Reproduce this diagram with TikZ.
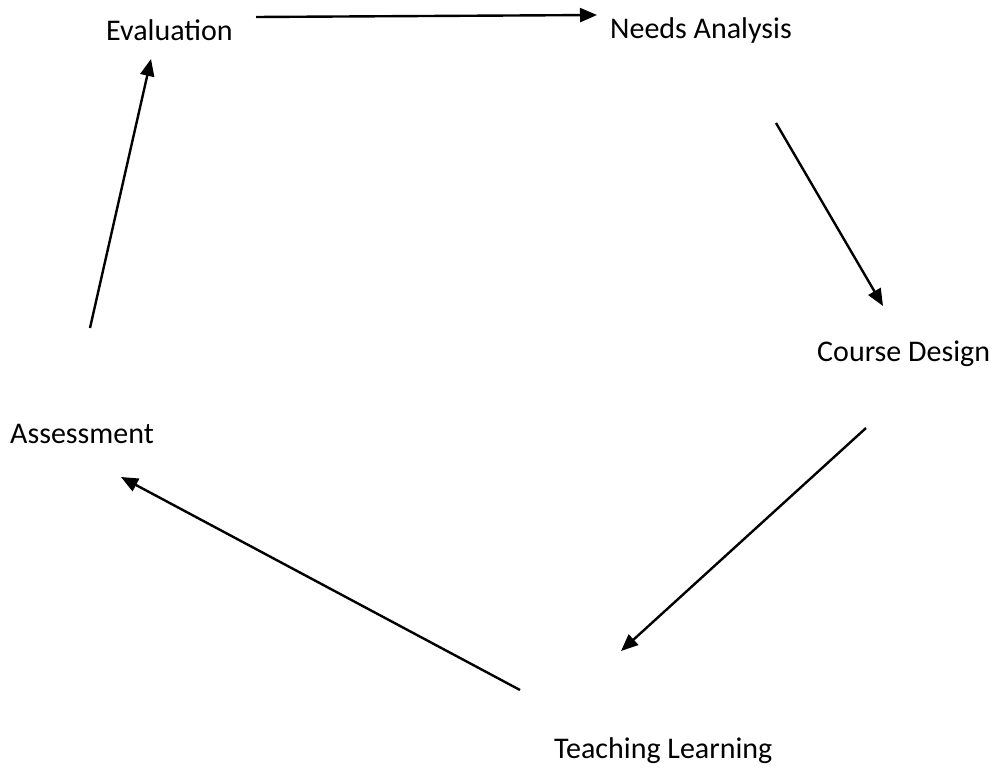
\documentclass[tikz,border=0pt]{standalone}
\usepackage{fontspec}
\setmainfont{Carlito}
\usetikzlibrary{arrows.meta}
\begin{document}
\begin{tikzpicture}[x=1pt,y=1pt,
  lbl/.style={anchor=base west,inner sep=0pt,font=\fontsize{30}{36}\selectfont},
  flow/.style={line width=2.4pt,-{Triangle[length=17pt,width=14pt]}}]
\useasboundingbox (0,0) rectangle (992,-770);
\node[lbl] (eval) at (106,-41) {Evaluation};
\node[lbl] (needs) at (610,-39) {Needs Analysis};
\node[lbl] (course) at (817,-361) {Course Design};
\node[lbl] (assess) at (10,-443) {Assessment};
\node[lbl] (teach) at (554,-758) {Teaching Learning};
\coordinate (a1s) at (256,-17);
\coordinate (a1e) at (597,-15);
\coordinate (a2s) at (776,-123);
\coordinate (a2e) at (883,-306);
\coordinate (a3s) at (866,-428);
\coordinate (a3e) at (621,-651);
\coordinate (a4s) at (520,-690);
\coordinate (a4e) at (121,-477);
\coordinate (a5s) at (90,-328);
\coordinate (a5e) at (151,-59);
\draw[flow] (a1s) -- (a1e);
\draw[flow] (a2s) -- (a2e);
\draw[flow] (a3s) -- (a3e);
\draw[flow] (a4s) -- (a4e);
\draw[flow] (a5s) -- (a5e);
\end{tikzpicture}
\end{document}
